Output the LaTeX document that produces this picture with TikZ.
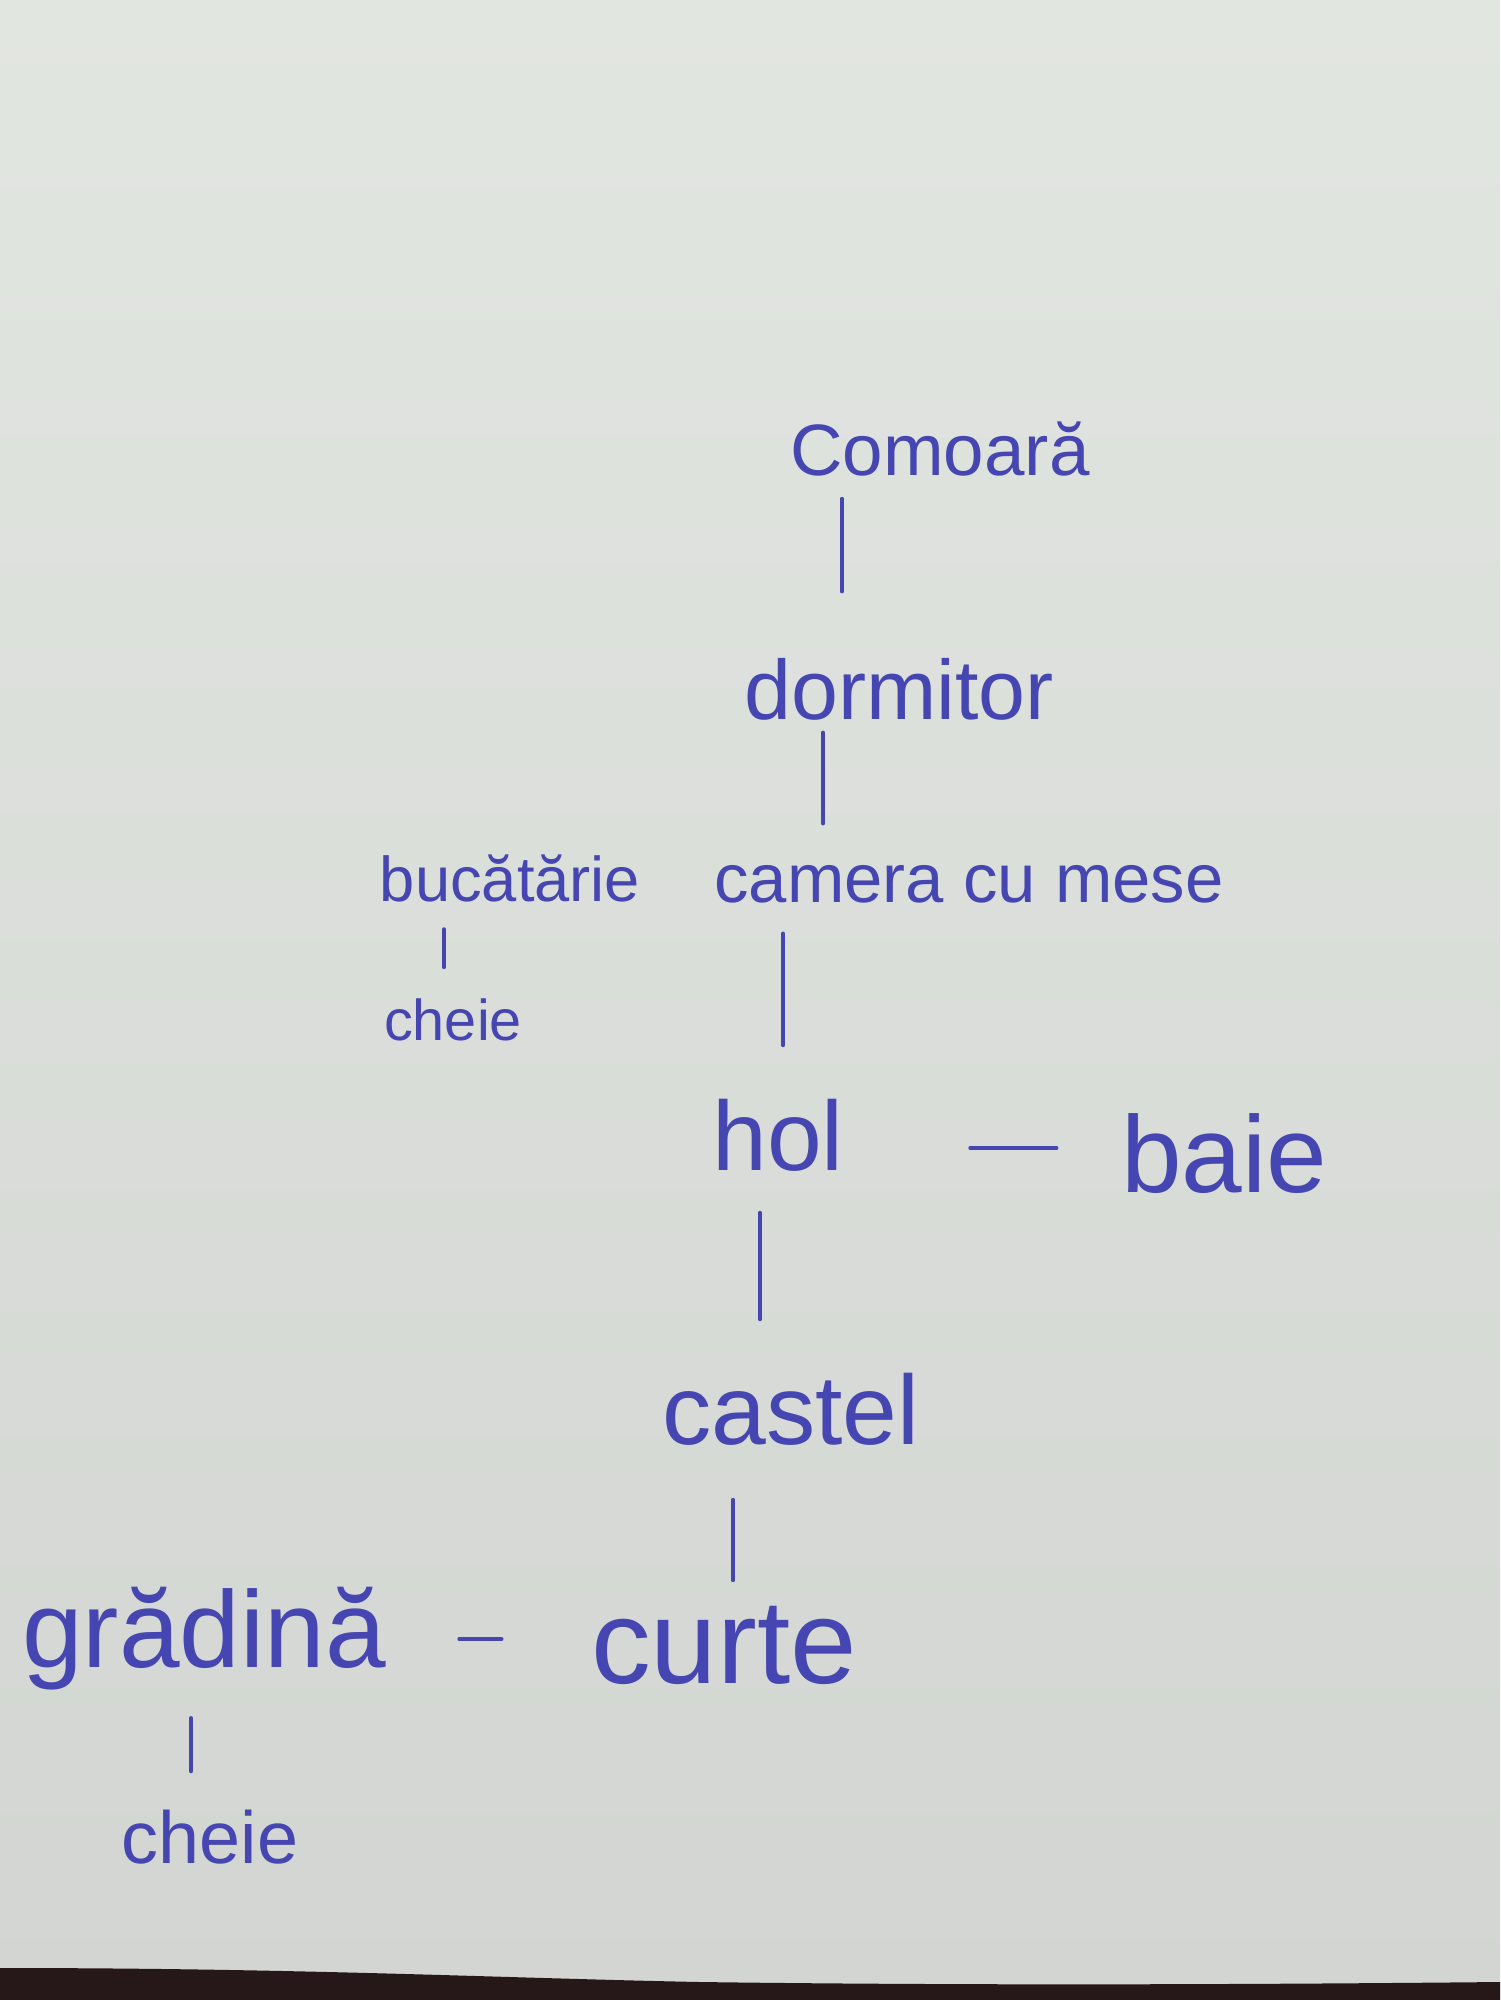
\documentclass[tikz,border=0pt]{standalone}
\usepackage{fontspec}
\setmainfont{Liberation Sans}
\usepackage{tikz}
\definecolor{ink}{RGB}{70,70,178}
\definecolor{paper}{RGB}{226,230,225}
\definecolor{paperlow}{RGB}{210,213,209}
\definecolor{desk}{RGB}{38,24,24}
\tikzset{
  word/.style={text=ink, font=\fontsize{#1}{#1}\selectfont},
  link/.style={-, ink, line width=1pt, line cap=round}
}

\begin{document}
\begin{tikzpicture}
%HARTIE
\useasboundingbox (0,0) rectangle (15,-20);
\shade[top color=paper, bottom color=paperlow] (0,0) rectangle (15,-20);
\fill[desk] (0,-19.68) .. controls (3,-19.68) and (5,-19.78) .. (7,-19.82)
  .. controls (10,-19.86) and (13,-19.84) .. (15,-19.82) -- (15,-20) -- (0,-20) -- cycle;
%NODURI
\node[word=20.7] (comoara) at (9.40,-4.49) {Comoară};
\node[word=24] (dormitor) at (8.99,-6.89) {dormitor};
\node[word=18] (bucatarie) at (5.10,-8.78) {bucătărie};
\node[word=19.6] (camera) at (9.69,-8.84) {camera cu mese};
\node[word=16.4] (cheie1) at (4.53,-10.20) {cheie};
\node[word=28] (hol) at (7.78,-11.35) {hol};
\node[word=31] (baie) at (12.24,-11.54) {baie};
\node[word=28] (castel) at (7.91,-14.09) {castel};
\node[word=31] (gradina) at (2.04,-16.39) {grădină};
\node[word=34] (curte) at (7.24,-16.45) {curte};
\node[word=21] (cheie2) at (2.10,-18.37) {cheie};
%LEGATURI VERTICALE
\draw[link, shorten <=1mm, shorten >=5.4mm] ([xshift=-9.8mm]comoara.south) -- ([xshift=-9.8mm]comoara.south |- dormitor.north);
\draw[link, shorten >=2.9mm] ([xshift=-7.6mm]dormitor.south) -- ([xshift=-7.6mm]dormitor.south |- camera.north);
\draw[link, shorten <=1.5mm, shorten >=1.9mm] ([xshift=-6.6mm]bucatarie.south) -- ([xshift=-6.6mm]bucatarie.south |- cheie1.north);
\draw[link, shorten <=1.8mm, shorten >=4.1mm] ([xshift=-18.6mm]camera.south) -- ([xshift=-18.6mm]camera.south |- hol.north);
\draw[link, shorten <=2.9mm, shorten >=4.1mm] ([xshift=-1.8mm]hol.south) -- ([xshift=-1.8mm]hol.south |- castel.north);
\draw[link, shorten <=4.2mm, shorten >=1.3mm] ([xshift=-5.8mm]castel.south) -- ([xshift=-5.8mm]castel.south |- curte.north);
\draw[link, shorten <=1.5mm, shorten >=2.6mm] ([xshift=-1.3mm]gradina.south) -- ([xshift=-1.3mm]gradina.south |- cheie2.north);
%LEGATURI ORIZONTALE
\draw[link, shorten <=11.4mm, shorten >=5.2mm] ([yshift=-1.3mm]hol.east) -- ([yshift=-1.3mm]hol.east -| baie.west);
\draw[link, shorten <=6.1mm, shorten >=7.7mm] (gradina.east) -- (gradina.east -| curte.west);
\end{tikzpicture}
\end{document}
